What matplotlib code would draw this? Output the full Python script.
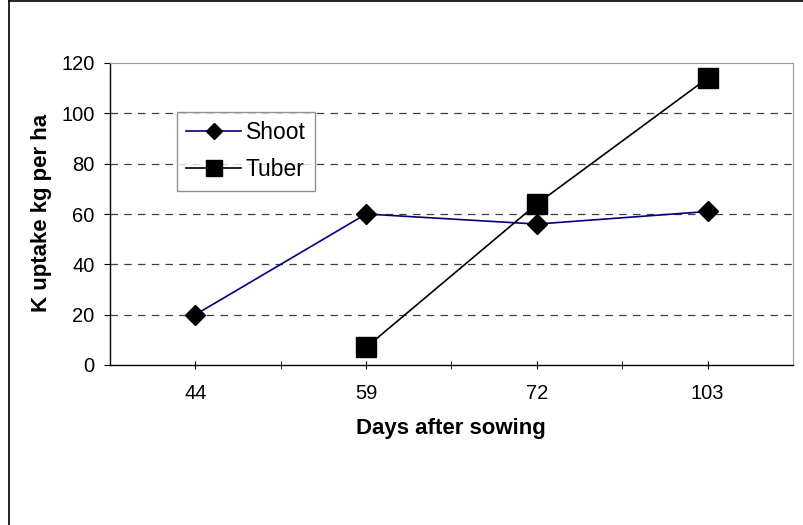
import numpy as np
import matplotlib.pyplot as plt
from matplotlib.lines import Line2D

plt.rcParams["font.family"] = ["Liberation Sans", "DejaVu Sans"]

# Data
days = ["44", "59", "72", "103"]
shoot = [20, 60, 56, 61]
tuber = [np.nan, 7, 64, 114]

fig = plt.figure(figsize=(8.04, 5.25), dpi=100)
# plot area in pixels: x 110-793, y 63-365
ax = fig.add_axes([110 / 804, 1 - 365 / 525, 683 / 804, 302 / 525])

x = np.arange(len(days))
ax.plot(x, shoot, color="#000080", lw=1.2, marker="D", ms=10.5,
        mfc="black", mec="black", label="Shoot", zorder=3)
ax.plot(x, tuber, color="black", lw=1.2, marker="s", ms=14,
        mfc="black", mec="black", label="Tuber", zorder=3)

ax.set_xlim(-0.5, len(days) - 0.5)
ax.set_ylim(0, 120)
ax.set_yticks(range(0, 121, 20))
ax.set_xticks(x)
ax.set_xticklabels(days)
ax.set_xticks(x[:-1] + 0.5, minor=True)

for y in range(20, 120, 20):
    ax.axhline(y, color="#404040", lw=0.9, dashes=(6, 5), zorder=0)

for side in ("top", "right"):
    ax.spines[side].set_color("#999999")
for side in ("left", "bottom"):
    ax.spines[side].set_color("black")
    ax.spines[side].set_linewidth(1.0)

ax.tick_params(axis="y", direction="out", length=4, labelsize=14.5, pad=7)
ax.tick_params(axis="x", which="both", direction="inout", length=6,
               labelsize=14.5, pad=11)

ax.set_xlabel("Days after sowing", fontsize=16, fontweight="bold")
ax.set_ylabel("K uptake kg per ha", fontsize=16, fontweight="bold")
ax.xaxis.set_label_coords(0.499, -0.175)
ax.yaxis.set_label_coords(-0.085, 0.502)

leg = ax.legend(loc="upper left", bbox_to_anchor=(67 / 683, 253 / 302),
                borderaxespad=0, fontsize=16.5, frameon=True, fancybox=False,
                borderpad=0.4, handlelength=2.4, handletextpad=0.2,
                labelspacing=0.62, markerscale=0.8)
leg.get_frame().set_edgecolor("#777777")
leg.get_frame().set_linewidth(1.0)

# outer chart border (only left and top edges fall inside the image)
fig.add_artist(Line2D([8.5 / 804, 8.5 / 804], [0, 1 - 0.5 / 525],
                      transform=fig.transFigure, color="black", lw=1.2))
fig.add_artist(Line2D([8.5 / 804, 1], [1 - 0.5 / 525, 1 - 0.5 / 525],
                      transform=fig.transFigure, color="black", lw=1.2))

fig.savefig("out.png", dpi=100)
